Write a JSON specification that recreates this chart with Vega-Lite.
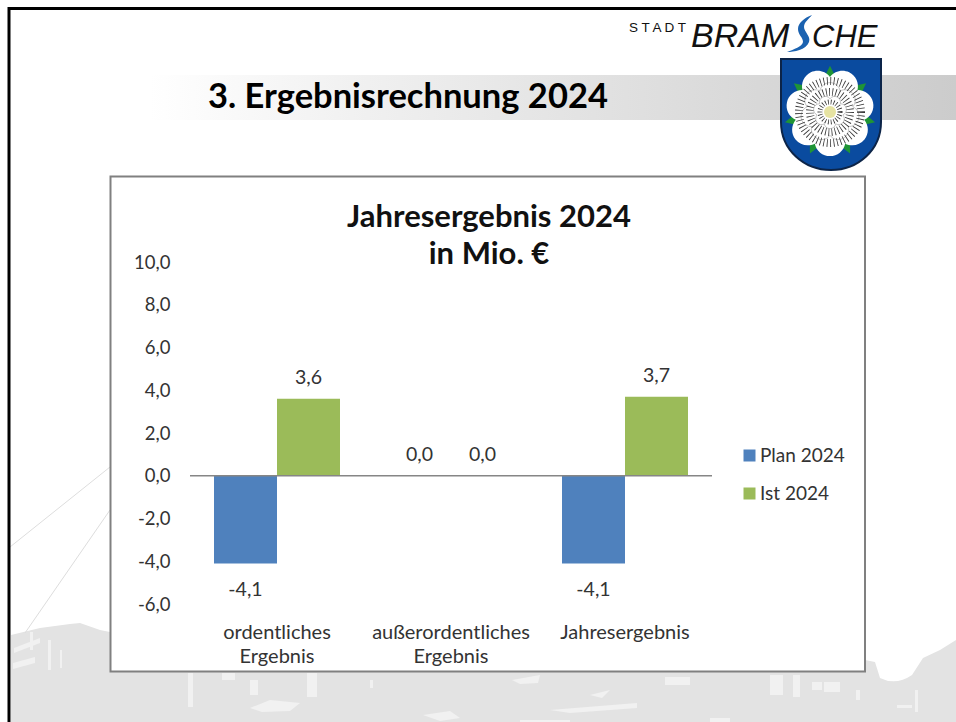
{
"$schema":"https://vega.github.io/schema/vega-lite/v6.json",
"width":522,"height":342,
"autosize":{"type":"none"},
"padding":{"left":190,"top":262,"right":244,"bottom":118},
"background":"#ffffff",
"config":{"view":{"stroke":null},"font":"Lato"},
"title":{"text":["Jahresergebnis 2024","in Mio. €"],"font":"Lato","fontSize":31,"fontWeight":"bold","color":"#111111","anchor":"middle","dx":38,"offset":-268,"lineHeight":37},
"datasets":{
"chart":[
{"category":"ordentliches Ergebnis","series":"Plan 2024","value":-4.1,"label":"-4,1"},
{"category":"ordentliches Ergebnis","series":"Ist 2024","value":3.6,"label":"3,6"},
{"category":"außerordentliches Ergebnis","series":"Plan 2024","value":0.0,"label":"0,0"},
{"category":"außerordentliches Ergebnis","series":"Ist 2024","value":0.0,"label":"0,0"},
{"category":"Jahresergebnis","series":"Plan 2024","value":-4.1,"label":"-4,1"},
{"category":"Jahresergebnis","series":"Ist 2024","value":3.7,"label":"3,7"}
],
"deco":[{"part":"decoration"}]
},
"layer":[
{"data":{"name":"deco"},"mark":{"type":"point","x":-190,"y":-262,"size":4,"filled":true,"opacity":1,"fill":"#e3e3e3","strokeWidth":0,"shape":"M11,635L40,628L70,624L80,623L100,630L110,632L865,660L875,662L880,678Q896,686 912,675L923,658L940,650L956,640V722H11Z"},"encoding":{}},
{"data":{"name":"deco"},"mark":{"type":"point","x":-190,"y":-262,"size":4,"filled":true,"opacity":1,"fill":"#f1f1f1","strokeWidth":0,"shape":"M13,663L35,657V663L13,669ZM14,648L40,638V643L14,653ZM30,632H33V650H30ZM48,640H51V670H48ZM60,650H62V668H60ZM188,673H193V707H188ZM222,673H235V680H222ZM250,708L270,700L300,703L290,711L262,712ZM307,673H317V697H307ZM250,680H258V695H250ZM370,680H373V688H370ZM512,680L540,675L538,683L520,684ZM423,715L450,711L460,718L440,721ZM520,720H570V722H520ZM550,710L637,703V708L570,713ZM590,695L610,690L602,698ZM665,677H690V685H665ZM770,675H783V695H770ZM793,675H800V697H793ZM812,682H822V690H812ZM824,682H840V692H824ZM710,718H730V722H710ZM856,690H860V700H856ZM897,705H912V708H897ZM915,690H918V712H915Z"},"encoding":{}},
{"data":{"name":"deco"},"mark":{"type":"point","x":-190,"y":-262,"size":4,"filled":false,"opacity":1,"stroke":"#dddddd","strokeWidth":1,"shape":"M10,547L110,467M25,633L110,510"},"encoding":{}},
{"data":{"name":"deco"},"mark":{"type":"rect","x":-40,"x2":766,"y":-187,"y2":-142,"fill":{"gradient":"linear","x1":0,"x2":1,"y1":0,"y2":0,"stops":[{"offset":0,"color":"#ffffff"},{"offset":0.25,"color":"#f1f1f1"},{"offset":0.55,"color":"#e2e2e2"},{"offset":1,"color":"#cccccc"}]}},"encoding":{}},
{"data":{"name":"deco"},"mark":{"type":"point","x":-190,"y":-262,"size":4,"filled":false,"opacity":1,"stroke":"#000000","strokeWidth":3,"shape":"M9,722V8.5H956"},"encoding":{}},
{"data":{"name":"deco"},"mark":{"type":"point","x":-190,"y":-262,"size":4,"filled":true,"opacity":1,"fill":"#ffffff","stroke":"#808080","strokeWidth":2,"shape":"M110.5,176.5H865V671.5H110.5Z"},"encoding":{}},
{"data":{"name":"deco"},"mark":{"type":"point","x":-190,"y":-262,"size":4,"filled":true,"opacity":1,"fill":"#0a4b9f","stroke":"#0c2448","strokeWidth":2,"shape":"M781,59H881V122C881,150 858,170 831,170C804,170 781,150 781,122Z"},"encoding":{}},
{"data":{"name":"deco"},"mark":{"type":"point","x":640,"y":-150,"size":7744,"filled":true,"opacity":1,"fill":"#1f9436","strokeWidth":0,"shape":"M0,-1.05L0.156,-0.734L-0.156,-0.734ZM0.821,-0.654L0.671,-0.335L0.477,-0.579ZM1.024,0.234L0.68,0.315L0.75,0.011ZM0.456,0.946L0.178,0.729L0.459,0.593ZM-0.456,0.946L-0.459,0.593L-0.178,0.729ZM-1.024,0.234L-0.75,0.011L-0.68,0.315ZM-0.821,-0.654L-0.477,-0.579L-0.671,-0.335Z"},"encoding":{}},
{"data":{"name":"deco"},"mark":{"type":"point","x":640,"y":-150,"size":8100,"filled":true,"opacity":1,"fill":"#ffffff","strokeWidth":0,"shape":"M0,-0.78A0.345,0.345 0 0 1 0.61,-0.486A0.345,0.345 0 0 1 0.76,0.174A0.345,0.345 0 0 1 0.338,0.703A0.345,0.345 0 0 1 -0.338,0.703A0.345,0.345 0 0 1 -0.76,0.174A0.345,0.345 0 0 1 -0.61,-0.486A0.345,0.345 0 0 1 0,-0.78Z"},"encoding":{}},
{"data":{"name":"deco"},"mark":{"type":"point","x":640,"y":-150,"size":3600,"filled":true,"opacity":1,"fill":"#ffffff","stroke":"#888888","strokeWidth":0.5,"shape":"M0,0.78A0.345,0.345 0 0 0 0.61,0.486A0.345,0.345 0 0 0 0.76,-0.174A0.345,0.345 0 0 0 0.338,-0.703A0.345,0.345 0 0 0 -0.338,-0.703A0.345,0.345 0 0 0 -0.76,-0.174A0.345,0.345 0 0 0 -0.61,0.486A0.345,0.345 0 0 0 0,0.78Z"},"encoding":{}},
{"data":{"name":"deco"},"mark":{"type":"point","x":640,"y":-150,"size":3844,"shape":"circle","filled":false,"opacity":1,"stroke":"#333333","strokeWidth":8,"strokeDash":[0.8,2.6]},"encoding":{}},
{"data":{"name":"deco"},"mark":{"type":"point","x":640,"y":-150,"size":1600,"shape":"circle","filled":false,"opacity":1,"stroke":"#333333","strokeWidth":8,"strokeDash":[0.8,2.4]},"encoding":{}},
{"data":{"name":"deco"},"mark":{"type":"point","x":640,"y":-150,"size":1156,"filled":true,"opacity":1,"fill":"#ffffff","stroke":"#888888","strokeWidth":0.5,"shape":"M0,-0.78A0.345,0.345 0 0 1 0.61,-0.486A0.345,0.345 0 0 1 0.76,0.174A0.345,0.345 0 0 1 0.338,0.703A0.345,0.345 0 0 1 -0.338,0.703A0.345,0.345 0 0 1 -0.76,0.174A0.345,0.345 0 0 1 -0.61,-0.486A0.345,0.345 0 0 1 0,-0.78Z"},"encoding":{}},
{"data":{"name":"deco"},"mark":{"type":"point","x":640,"y":-150,"size":400,"shape":"circle","filled":false,"opacity":1,"stroke":"#333333","strokeWidth":5,"strokeDash":[0.8,2]},"encoding":{}},
{"data":{"name":"deco"},"mark":{"type":"point","x":640,"y":-150,"size":144,"shape":"circle","filled":true,"opacity":1,"fill":"#e6e3a2","strokeWidth":0},"encoding":{}},
{"data":{"name":"deco"},"mark":{"type":"point","x":-190,"y":-262,"size":4,"filled":true,"opacity":1,"fill":"#1b62b0","strokeWidth":0,"shape":"M812,15C804,18 798,23 798,29C798,35 803,37 803,42C802,47 794,49 787,52C794,52 806,50 809,42C811,36 804,32 804,27C804,22 809,19 812,15Z"},"encoding":{}},
{"data":{"name":"deco"},"mark":{"type":"text","x":18,"y":-154,"text":"3. Ergebnisrechnung 2024","align":"left","baseline":"alphabetic","font":"Lato","fontWeight":"bold","fontSize":34.5,"fill":"#000000"},"encoding":{}},
{"data":{"name":"deco"},"mark":{"type":"text","x":439,"y":-230,"text":"S T A D T","align":"left","baseline":"alphabetic","font":"Liberation Sans","fontSize":13.5,"fill":"#111111"},"encoding":{}},
{"data":{"name":"deco"},"mark":{"type":"text","x":501,"y":-215,"text":"BRAM","align":"left","baseline":"alphabetic","font":"Liberation Sans","fontStyle":"italic","fontSize":34,"fill":"#111111"},"encoding":{}},
{"data":{"name":"deco"},"mark":{"type":"text","x":622,"y":-215,"text":"CHE","align":"left","baseline":"alphabetic","font":"Liberation Sans","fontStyle":"italic","fontSize":31,"fill":"#111111"},"encoding":{}},
{"data":{"name":"chart"},"mark":{"type":"bar","opacity":1},
"encoding":{
"x":{"field":"category","type":"nominal","sort":null,"scale":{"domain":["ordentliches Ergebnis","außerordentliches Ergebnis","Jahresergebnis"],"paddingInner":0,"paddingOuter":0},
"axis":{"title":null,"domain":false,"ticks":false,"grid":false,"labelAngle":0,"labelPadding":28,"labelFontSize":20,"labelFont":"Lato","labelColor":"#333333","labelLineHeight":24,"labelLimit":0,"labelBaseline":"middle","zindex":1,"labelExpr":"datum.label == 'ordentliches Ergebnis' ? ['ordentliches','Ergebnis'] : datum.label == 'außerordentliches Ergebnis' ? ['außerordentliches','Ergebnis'] : datum.label"}},
"xOffset":{"field":"series","type":"nominal","scale":{"domain":["Plan 2024","Ist 2024"],"paddingInner":0,"paddingOuter":0.381}},
"y":{"field":"value","type":"quantitative","scale":{"domain":[-6,10],"nice":false,"zero":false},
"axis":{"title":null,"domain":false,"ticks":false,"grid":false,"values":[-6,-4,-2,0,2,4,6,8,10],"labelPadding":20,"labelFontSize":18.5,"labelFont":"Lato","labelColor":"#333333","zindex":1,"labelExpr":"replace(replace(format(datum.value,'.1f'),'.',','),'−','-')"}},
"color":{"field":"series","type":"nominal","scale":{"domain":["Plan 2024","Ist 2024"],"range":["#4f81bd","#9bbb59"]},
"legend":{"title":null,"orient":"none","legendX":550,"legendY":184,"symbolType":"square","symbolSize":144,"symbolStrokeWidth":0,"labelFontSize":19,"labelFont":"Lato","labelColor":"#333333","labelOffset":1,"rowPadding":18}}
}},
{"data":{"name":"deco"},"mark":{"type":"rule","color":"#868686","strokeWidth":1.5},"encoding":{"y":{"datum":0,"type":"quantitative"}}},
{"data":{"name":"chart"},"transform":[{"filter":"datum.value >= 0"}],"mark":{"type":"text","dy":-21,"font":"Lato","fontSize":19.5,"fill":"#333333","baseline":"middle"},
"encoding":{"x":{"field":"category","type":"nominal","sort":null},"xOffset":{"field":"series","type":"nominal"},"y":{"field":"value","type":"quantitative"},"text":{"field":"label","type":"nominal"}}},
{"data":{"name":"chart"},"transform":[{"filter":"datum.value < 0"}],"mark":{"type":"text","dy":27,"font":"Lato","fontSize":19.5,"fill":"#333333","baseline":"middle"},
"encoding":{"x":{"field":"category","type":"nominal","sort":null},"xOffset":{"field":"series","type":"nominal"},"y":{"field":"value","type":"quantitative"},"text":{"field":"label","type":"nominal"}}}
]
}
